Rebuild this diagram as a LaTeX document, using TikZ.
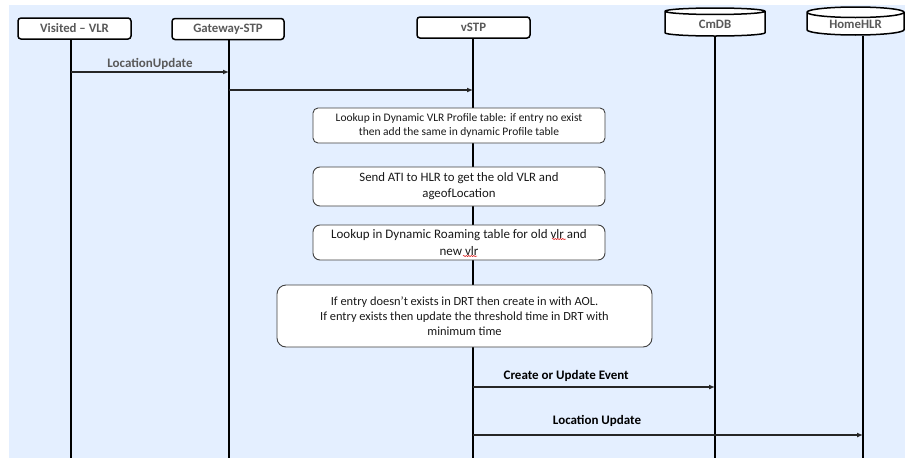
\documentclass[tikz,border=0pt]{standalone}
\usepackage{fontspec}
\setmainfont{Carlito}
\usetikzlibrary{shapes.geometric,arrows.meta,decorations.pathmorphing}
\definecolor{bgblue}{RGB}{228,239,255}
\definecolor{txtgray}{RGB}{89,89,89}
\definecolor{boxline}{RGB}{64,64,64}

\begin{document}
\begin{tikzpicture}
        [x=1pt,y=-1pt,
         actor/.style={draw,line width=1.5pt,rounded corners=3pt,fill=white,
           minimum width=113pt,minimum height=21pt,inner sep=0pt,
           text=txtgray,font=\bfseries\fontsize{12.8}{14}\selectfont},
         store/.style={cylinder,shape border rotate=90,aspect=0.2,draw,
           line width=1.5pt,fill=white,minimum width=100pt,minimum height=28pt,
           inner sep=0pt,text=txtgray,font=\bfseries\fontsize{12.8}{14}\selectfont},
         life/.style={line width=1.6pt},
         msg/.style={line width=1.2pt,draw=black!85,-{Latex[length=6pt,width=5pt]}},
         stepbox/.style={draw=boxline,line width=0.9pt,rounded corners=7pt,
           fill=white,align=center,inner sep=0pt,text=black!90},
         squiggle/.style={draw=red!85!black,line width=0.5pt,decorate,
           decoration={snake,amplitude=0.6pt,segment length=2.5pt}},
         lbl/.style={font=\bfseries\fontsize{13}{14}\selectfont}]

        \useasboundingbox (0,0) rectangle (905,458);
        \fill[white] (0,0) rectangle (905,458);
        \fill[bgblue] (9,5) rectangle (905,458);

        \node[actor] (vlr) at (74.5,28.5) {Visited – VLR};
        \node[actor,minimum width=112pt] (gw) at (228,29) {Gateway-STP};
        \node[actor] (vstp) at (473.5,27.5) {vSTP};
        \node[store] (cmdb) at (715,24) {CmDB};
        \node[store,minimum width=97pt] (hlr) at (855.5,24) {HomeHLR};

        \coordinate (vlrend) at (71,458);
        \coordinate (gwend) at (229,458);
        \coordinate (vstpend) at (473,458);
        \coordinate (cmdbend) at (715,458);
        \coordinate (hlrend) at (863,458);

        \draw[life] (vlr.south -| vlrend) -- (vlrend);
        \draw[life] (gw.south -| gwend) -- (gwend);
        \draw[life] (vstp.south -| vstpend) -- (vstpend);
        \draw[life] (cmdb.south -| cmdbend) -- (cmdbend);
        \draw[life] (hlr.south -| hlrend) -- (hlrend);

        \draw[msg] (vlrend |- 0,72) -- node[above=-1pt,lbl,text=txtgray] {LocationUpdate} (gwend |- 0,72);
        \draw[msg] (gwend |- 0,90) -- (vstpend |- 0,90);

        \node[stepbox,rounded corners=5pt,minimum width=292pt,minimum height=35pt,
              font=\fontsize{11.5}{14}\selectfont] (s1) at (459,125.5)
              {Lookup in Dynamic VLR Profile table: if entry no exist\\then add the same in dynamic Profile table};
        \node[stepbox,minimum width=292pt,minimum height=39pt,
              font=\fontsize{12.8}{16}\selectfont] (s2) at (459,186.5)
              {Send ATI to HLR to get the old VLR and\\ageofLocation};
        \node[stepbox,minimum width=292pt,minimum height=35pt,
              font=\fontsize{13}{17.5}\selectfont] (s3) at (459,242.5)
              {Lookup in Dynamic Roaming table for old vlr and\\new vlr};
        \node[stepbox,rounded corners=9pt,minimum width=375pt,minimum height=62pt,
              font=\fontsize{12.4}{15}\selectfont] (s4) at (464.5,316)
              {If entry doesn’t exists in DRT then create in with AOL.\\If entry exists then update the threshold time in DRT with\\minimum time};

        \draw[squiggle] (552,239) -- (566,239);
        \draw[squiggle] (463,256) -- (477,256);

        \draw[msg] (vstpend |- 0,387) -- node[pos=.385,above=2pt,lbl] {Create or Update Event} (cmdbend |- 0,387);
        \draw[msg] (vstpend |- 0,435) -- node[pos=.318,above=5pt,lbl] {Location Update} (hlrend |- 0,435);
    \end{tikzpicture}
\end{document}
